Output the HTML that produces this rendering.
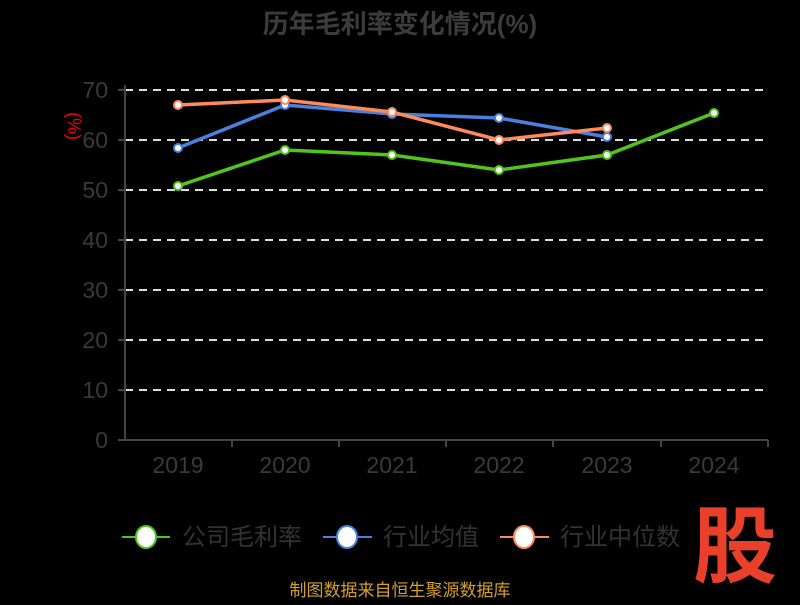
<!DOCTYPE html>
<html><head><meta charset="utf-8"><style>
body{margin:0;background:#000;width:800px;height:600px;overflow:hidden}
text{font-family:"Liberation Sans","Noto Sans CJK SC",sans-serif}
</style></head><body>
<svg width="800" height="600" xmlns="http://www.w3.org/2000/svg">
<text x="400" y="33" text-anchor="middle" font-size="26" font-weight="bold" fill="#3c3c3c">历年毛利率变化情况(%)</text>
<text x="68" y="126" font-size="18" fill="#e00" text-anchor="middle" transform="rotate(90 68 126)">(%)</text>
<g stroke="#ddd" stroke-width="2" stroke-dasharray="8,6">
<line x1="125" y1="90" x2="768" y2="90"/><line x1="125" y1="140" x2="768" y2="140"/><line x1="125" y1="190" x2="768" y2="190"/><line x1="125" y1="240" x2="768" y2="240"/><line x1="125" y1="290" x2="768" y2="290"/><line x1="125" y1="340" x2="768" y2="340"/><line x1="125" y1="390" x2="768" y2="390"/>
</g>
<g stroke="#444" stroke-width="2">
<line x1="125" y1="85" x2="125" y2="441"/><line x1="124" y1="440" x2="768" y2="440"/>
<line x1="118" y1="90" x2="125" y2="90"/><line x1="118" y1="140" x2="125" y2="140"/><line x1="118" y1="190" x2="125" y2="190"/><line x1="118" y1="240" x2="125" y2="240"/><line x1="118" y1="290" x2="125" y2="290"/><line x1="118" y1="340" x2="125" y2="340"/><line x1="118" y1="390" x2="125" y2="390"/><line x1="118" y1="440" x2="125" y2="440"/>
<line x1="232" y1="440" x2="232" y2="447"/><line x1="339" y1="440" x2="339" y2="447"/><line x1="446" y1="440" x2="446" y2="447"/><line x1="553" y1="440" x2="553" y2="447"/><line x1="661" y1="440" x2="661" y2="447"/><line x1="768" y1="440" x2="768" y2="447"/>
</g>
<g font-size="23" fill="#3a3a3a" text-anchor="end">
<text x="108" y="98">70</text><text x="108" y="148">60</text><text x="108" y="198">50</text><text x="108" y="248">40</text><text x="108" y="298">30</text><text x="108" y="348">20</text><text x="108" y="398">10</text><text x="108" y="448">0</text>
</g>
<g font-size="23" fill="#3a3a3a" text-anchor="middle">
<text x="178" y="473">2019</text><text x="285" y="473">2020</text><text x="392" y="473">2021</text><text x="499" y="473">2022</text><text x="607" y="473">2023</text><text x="714" y="473">2024</text>
</g>
<g fill="#fff" stroke-width="2">
<polyline points="178,186 285,150 392,155 499,170 607,155 714,113" fill="none" stroke="#52c41a" stroke-width="3.5"/>
<polyline points="178,148 285,105 392,114 499,118 607,137" fill="none" stroke="#4a80e0" stroke-width="3.5"/>
<polyline points="178,105 285,100 392,112 499,140 607,128" fill="none" stroke="#ff8a5a" stroke-width="3.5"/>
<g stroke="#52c41a"><circle cx="178" cy="186" r="4"/><circle cx="285" cy="150" r="4"/><circle cx="392" cy="155" r="4"/><circle cx="499" cy="170" r="4"/><circle cx="607" cy="155" r="4"/><circle cx="714" cy="113" r="4"/></g>
<g stroke="#4a80e0"><circle cx="178" cy="148" r="4"/><circle cx="285" cy="105" r="4"/><circle cx="392" cy="114" r="4"/><circle cx="499" cy="118" r="4"/><circle cx="607" cy="137" r="4"/></g>
<g stroke="#ff8a5a"><circle cx="178" cy="105" r="4"/><circle cx="285" cy="100" r="4"/><circle cx="392" cy="112" r="4"/><circle cx="499" cy="140" r="4"/><circle cx="607" cy="128" r="4"/></g>
<line x1="122" y1="537" x2="170" y2="537" stroke="#52c41a"/><ellipse cx="146" cy="537" rx="10" ry="11" stroke="#52c41a"/>
<line x1="323" y1="537" x2="372" y2="537" stroke="#4a80e0"/><ellipse cx="347" cy="537" rx="10" ry="11" stroke="#4a80e0"/>
<line x1="500" y1="537" x2="549" y2="537" stroke="#ff8a5a"/><ellipse cx="524" cy="537" rx="10" ry="11" stroke="#ff8a5a"/>
</g>
<g font-size="24" fill="#333">
<text x="182" y="545">公司毛利率</text><text x="383" y="545">行业均值</text><text x="560" y="545">行业中位数</text>
</g>
<text x="735" y="576" text-anchor="middle" font-size="84" font-weight="bold" fill="#e8402a">股</text>
<text x="400" y="596" text-anchor="middle" font-size="17" fill="#d4a020">制图数据来自恒生聚源数据库</text>
</svg>
</body></html>
